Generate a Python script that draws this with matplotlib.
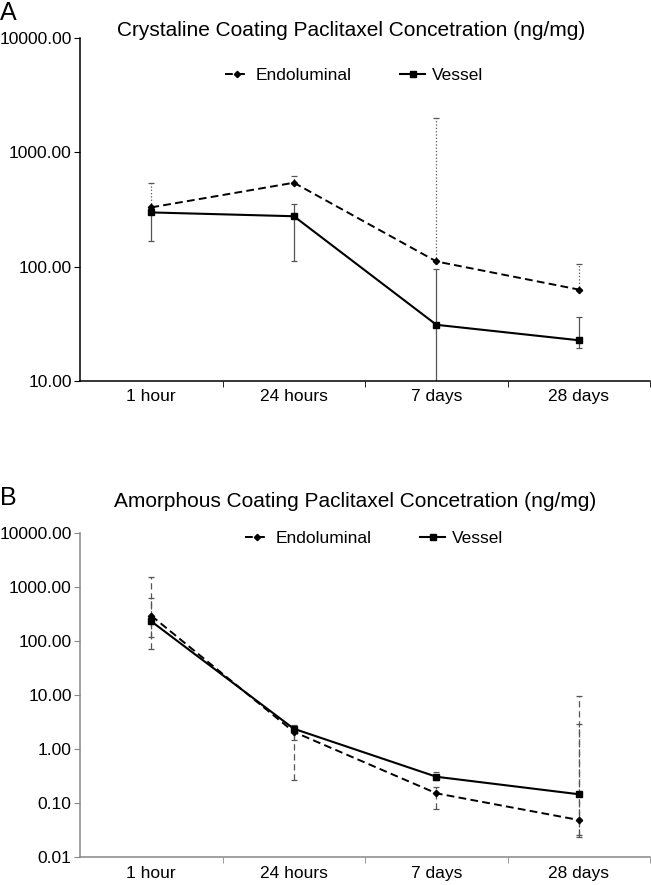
import matplotlib
matplotlib.use("Agg")
import matplotlib.pyplot as plt
import numpy as np

plt.rcParams['font.family'] = ['Liberation Sans', 'DejaVu Sans']

categories = ["1 hour", "24 hours", "7 days", "28 days"]
series_names = ["Endoluminal", "Vessel"]

# panel A - crystaline coating (ng/mg)
a_endo = [330, 542, 111, 63]
a_endo_hi = [535, 620, 2000, 106]
a_endo_lo = [330, 542, 111, 63]
a_vessel = [298, 276, 31, 22.7]
a_vessel_hi = [298, 350, 95, 36]
a_vessel_lo = [169, 113, 5, 19.6]

# panel B - amorphous coating (ng/mg)
b_endo = [298, 2.1, 0.153, 0.049]
b_endo_hi = [1573, 2.6, 0.2, 9.8]
b_endo_lo = [71, 0.27, 0.077, 0.024]
b_vessel = [234, 2.4, 0.31, 0.147]
b_vessel_hi = [625, 2.8, 0.38, 3.0]
b_vessel_lo = [118, 1.5, 0.27, 0.026]

titles = ["Crystaline Coating Paclitaxel Concetration (ng/mg)",
          "Amorphous Coating Paclitaxel Concetration (ng/mg)"]
ylims = [(10, 10000), (0.01, 10000)]


def draw(ax, endo, endo_hi, endo_lo, ves, ves_hi, ves_lo, bar_styles, spine_col):
    x = np.arange(len(categories))
    endo = np.array(endo); ves = np.array(ves)
    e1 = ax.errorbar(x, endo, yerr=[endo - np.array(endo_lo), np.array(endo_hi) - endo],
                     fmt='none', ecolor='#555555', elinewidth=0.9, capsize=2.5,
                     capthick=0.9, zorder=2)
    e1[2][0].set_linestyle(bar_styles[0])
    e2 = ax.errorbar(x, ves, yerr=[ves - np.array(ves_lo), np.array(ves_hi) - ves],
                     fmt='none', ecolor='#555555', elinewidth=0.9, capsize=2.5,
                     capthick=0.9, zorder=2)
    e2[2][0].set_linestyle(bar_styles[1])
    ax.plot(x, endo, color='black', ls=(0, (4, 2.2)), lw=1.4, marker='D',
            ms=3.2, label=series_names[0], zorder=3)
    ax.plot(x, ves, color='black', ls='-', lw=1.5, marker='s', ms=4.5,
            label=series_names[1], zorder=3)
    ax.set_yscale('log')
    ax.set_xlim(-0.5, 3.5)
    ax.set_xticks(x)
    ax.set_xticklabels(categories, fontsize=12.5)
    ax.set_xticks([0.5, 1.5, 2.5, 3.5], minor=True)
    ax.tick_params(axis='x', which='major', length=0, pad=6)
    ax.tick_params(axis='x', which='minor', length=4, color=spine_col)
    ax.tick_params(axis='y', which='major', length=4, labelsize=12.5, color=spine_col, pad=2)
    ax.tick_params(axis='y', which='minor', length=0)
    ax.yaxis.set_major_formatter(matplotlib.ticker.FuncFormatter(lambda v, p: f"{v:.2f}"))
    for s in ['top', 'right']:
        ax.spines[s].set_visible(False)
    for s in ['left', 'bottom']:
        ax.spines[s].set_color(spine_col)
        ax.spines[s].set_linewidth(1.1)


fig = plt.figure(figsize=(6.51, 8.85), dpi=100)
axA = fig.add_axes([0.1229, 0.5695, 0.876, 0.3876])
axB = fig.add_axes([0.1229, 0.0313, 0.876, 0.3661])

draw(axA, a_endo, a_endo_hi, a_endo_lo, a_vessel, a_vessel_hi, a_vessel_lo,
     [':', '-'], 'black')
axA.set_ylim(*ylims[0])
axA.set_yticks([10, 100, 1000, 10000])
draw(axB, b_endo, b_endo_hi, b_endo_lo, b_vessel, b_vessel_hi, b_vessel_lo,
     [(0, (5, 3)), (0, (5, 3))], '#888888')
axB.set_ylim(*ylims[1])
axB.set_yticks([0.01, 0.1, 1, 10, 100, 1000, 10000])

fig.text(0.539, 0.966, titles[0], ha='center', va='center', fontsize=15)
fig.text(0.545, 0.433, titles[1], ha='center', va='center', fontsize=15)
fig.text(0.0, 0.999, "A", ha='left', va='top', fontsize=18)
fig.text(0.0, 0.437, "B", ha='left', va='center', fontsize=18)

axA.legend(loc='center', bbox_to_anchor=(0.48, 0.892), ncol=2, frameon=False,
           fontsize=12.5, handlelength=1.4, handletextpad=0.4, columnspacing=2.8)
axB.legend(loc='center', bbox_to_anchor=(0.515, 0.985), ncol=2, frameon=False,
           fontsize=12.5, handlelength=1.4, handletextpad=0.4, columnspacing=2.8)

fig.savefig("out.png", dpi=100)
